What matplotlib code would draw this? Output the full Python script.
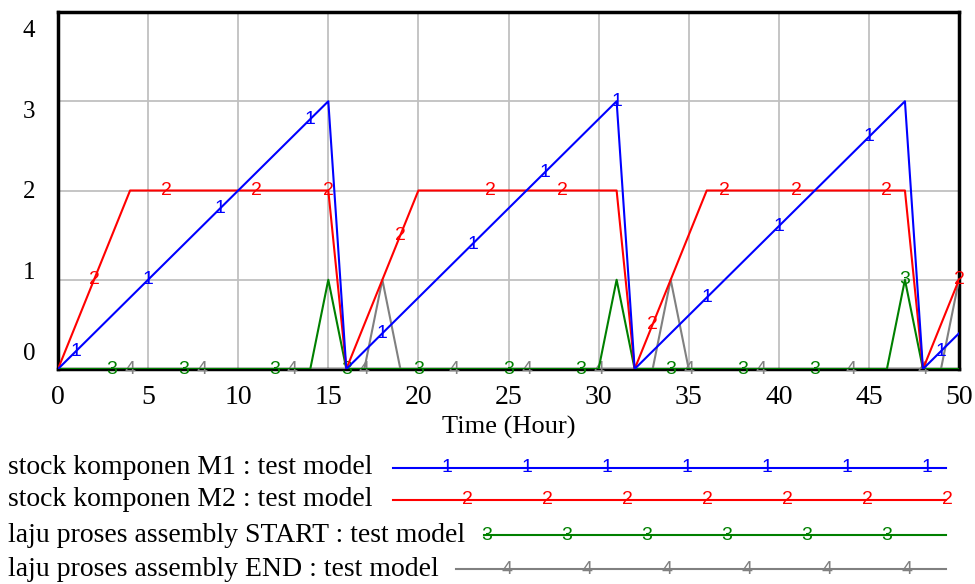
# ==========================================================
# plot.py
# Vensim style run chart: stock komponen / laju proses
# ==========================================================

import numpy as np
import matplotlib.pyplot as plt
from matplotlib.lines import Line2D

# ==========================================================
# DATA
# ==========================================================

time = list(range(0, 51))

stock_m1 = [
    0.0, 0.2, 0.4, 0.6, 0.8, 1.0, 1.2, 1.4, 1.6, 1.8, 2.0, 2.2, 2.4, 2.6, 2.8, 3.0,
    0.0, 0.2, 0.4, 0.6, 0.8, 1.0, 1.2, 1.4, 1.6, 1.8, 2.0, 2.2, 2.4, 2.6, 2.8, 3.0,
    0.0, 0.2, 0.4, 0.6, 0.8, 1.0, 1.2, 1.4, 1.6, 1.8, 2.0, 2.2, 2.4, 2.6, 2.8, 3.0,
    0.0, 0.2, 0.4,
]

stock_m2 = [
    0.0, 0.5, 1.0, 1.5, 2.0, 2.0, 2.0, 2.0, 2.0, 2.0, 2.0, 2.0, 2.0, 2.0, 2.0, 2.0,
    0.0, 0.5, 1.0, 1.5, 2.0, 2.0, 2.0, 2.0, 2.0, 2.0, 2.0, 2.0, 2.0, 2.0, 2.0, 2.0,
    0.0, 0.5, 1.0, 1.5, 2.0, 2.0, 2.0, 2.0, 2.0, 2.0, 2.0, 2.0, 2.0, 2.0, 2.0, 2.0,
    0.0, 0.5, 1.0,
]

assembly_start = [
    0, 0, 0, 0, 0, 0, 0, 0, 0, 0, 0, 0, 0, 0, 0, 1,
    0, 0, 0, 0, 0, 0, 0, 0, 0, 0, 0, 0, 0, 0, 0, 1,
    0, 0, 0, 0, 0, 0, 0, 0, 0, 0, 0, 0, 0, 0, 0, 1,
    0, 0, 0,
]

assembly_end = [
    0, 0, 0, 0, 0, 0, 0, 0, 0, 0, 0, 0, 0, 0, 0, 0,
    0, 0, 1, 0, 0, 0, 0, 0, 0, 0, 0, 0, 0, 0, 0, 0,
    0, 0, 1, 0, 0, 0, 0, 0, 0, 0, 0, 0, 0, 0, 0, 0,
    0, 0, 1,
]

# hours where the series number is written on the line
marks_m1 = [1, 5, 9, 14, 18, 23, 27, 31, 36, 40, 45, 49]
marks_m2 = [2, 6, 11, 15, 19, 24, 28, 33, 37, 41, 46, 50]
marks_start = [3, 7, 12, 16, 20, 25, 29, 34, 38, 42, 47]
marks_end = [4, 8, 13, 17, 22, 26, 30, 35, 39, 44, 48]

labels = [
    "stock komponen M1 : test model",
    "stock komponen M2 : test model",
    "laju proses assembly START : test model",
    "laju proses assembly END : test model",
]

x_ticks = [0, 5, 10, 15, 20, 25, 30, 35, 40, 45, 50]
y_ticks = [0, 1, 2, 3, 4]

# ==========================================================
# STYLE
# ==========================================================

W, H = 975, 584

serif = "Liberation Serif"
sans = "Liberation Sans"

series = [
    (stock_m1, marks_m1, "1", "#0000ff"),
    (stock_m2, marks_m2, "2", "#ff0000"),
    (assembly_start, marks_start, "3", "#008000"),
    (assembly_end, marks_end, "4", "#808080"),
]

# ==========================================================
# PLOT
# ==========================================================

fig = plt.figure(figsize=(W / 100, H / 100), dpi=100)

ax = fig.add_axes([58 / W, 1 - 369 / H, 901 / W, 357 / H])

for i, (values, marks, num, color) in enumerate(series):

    z = 10 - i

    ax.plot(time, values, color=color, linewidth=1.5, zorder=z)

    for t in marks:

        ax.text(
            t, values[time.index(t)], num,
            color=color, fontsize=14, family=sans,
            ha="center", va="center", zorder=z, clip_on=False
        )

ax.set_xlim(0, 50)
ax.set_ylim(0, 4)

ax.set_xticks(x_ticks)
ax.set_xticklabels([str(v) for v in x_ticks], fontsize=20, family=serif)

ax.set_yticks(y_ticks)
ax.set_yticklabels([])

ax.tick_params(length=0)
ax.tick_params(axis="x", pad=11.5)

# y labels sit a little inside the range, like Vensim does
for v in y_ticks:

    ax.text(
        -0.032, 0.17 + v * 0.905, str(v),
        transform=ax.get_yaxis_transform(),
        fontsize=18, family=serif, ha="center", va="center"
    )

ax.grid(True, color="#c0c0c0", linewidth=1.3)
ax.set_axisbelow(True)

for side in ax.spines.values():

    side.set_linewidth(2.5)
    side.set_color("black")

fig.text(509 / W, 1 - 427 / H, "Time (Hour)", fontsize=19, family=serif,
         ha="center", va="center")

# ==========================================================
# LEGEND
# ==========================================================

rows_y = [468, 500, 535, 569]
line_start = [393, 393, 484, 456]
first_mark = [447, 467, 487, 507]
n_marks = [7, 7, 6, 6]

for i, (values, marks, num, color) in enumerate(series):

    y = 1 - rows_y[i] / H

    fig.text(8 / W, y, labels[i], fontsize=20, family=serif,
             ha="left", va="center")

    fig.add_artist(Line2D(
        [line_start[i] / W, 946 / W], [y, y],
        color=color, linewidth=1.5, transform=fig.transFigure
    ))

    for k in range(n_marks[i]):

        fig.text(
            (first_mark[i] + 80 * k) / W, y, num,
            color=color, fontsize=14, family=sans,
            ha="center", va="center"
        )

plt.savefig("out.png", dpi=100)
